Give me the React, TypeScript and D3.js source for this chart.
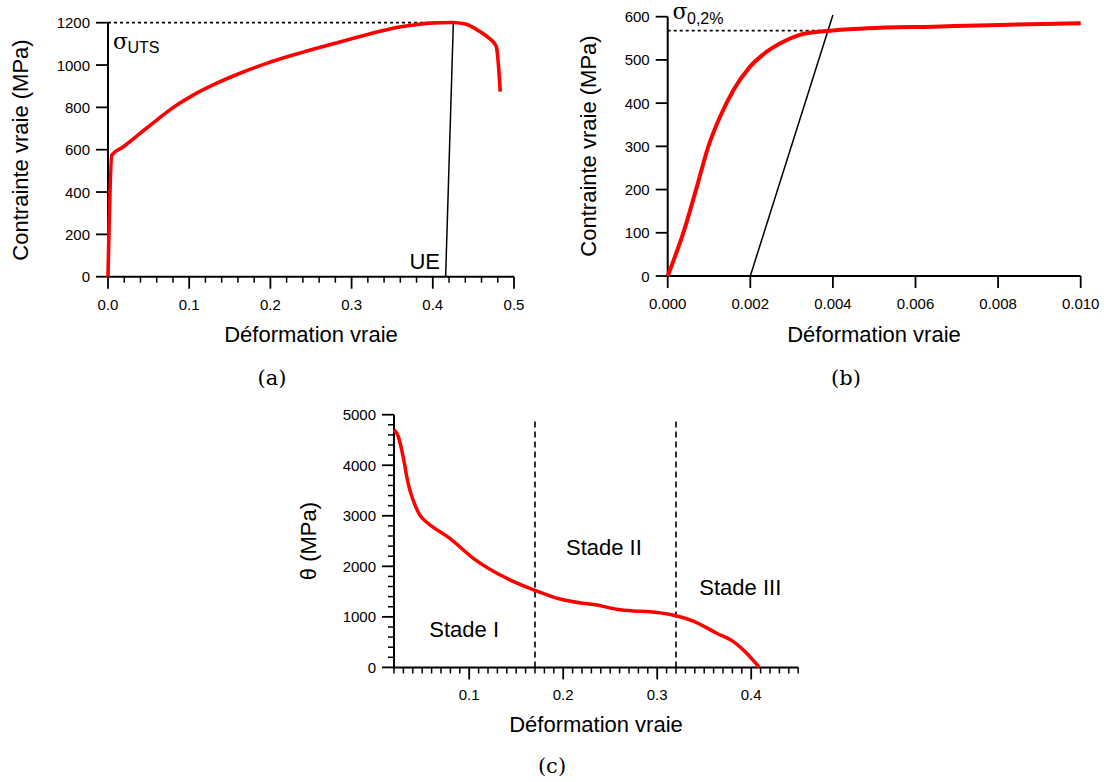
import React from 'react';
import * as d3 from 'd3';

// ---------- Panel (a) data ----------
const aStrain = [0, 0.0047, 0.0189, 0.0394, 0.06, 0.0805, 0.105, 0.134, 0.1626, 0.1954, 0.228, 0.257, 0.298, 0.339, 0.351, 0.376, 0.397, 0.423, 0.44, 0.458, 0.468, 0.478, 0.481, 0.483];
const aStress = [0, 575, 614, 677, 740, 800, 858, 914, 961, 1008, 1047, 1079, 1122, 1163, 1174, 1189, 1198, 1201, 1194, 1158, 1131, 1090, 992, 874];
const aYTicks = [0, 200, 400, 600, 800, 1000, 1200];
const aXTicks = [0, 0.1, 0.2, 0.3, 0.4, 0.5];
const aUTS = 1200;
const aUELine = [[0.4158, 0], [0.4253, 1200]];

// ---------- Panel (b) data ----------
const bStrain = [0, 0.000395, 0.000702, 0.000985, 0.00127, 0.00159, 0.00199, 0.0024, 0.0028, 0.0032, 0.00385, 0.00482, 0.00643, 0.00805, 0.01];
const bStress = [0, 105, 205, 300, 369, 430, 484, 519, 542, 558, 567, 573, 577, 581, 585];
const bYTicks = [0, 100, 200, 300, 400, 500, 600];
const bXTicks = [0, 0.002, 0.004, 0.006, 0.008, 0.01];
const bYield = 568;
const bOffsetLine = [[0.002, 0], [0.004, 604]];

// ---------- Panel (c) data ----------
const cStrain = [0.02, 0.0246, 0.0297, 0.035, 0.0403, 0.0474, 0.0563, 0.0794, 0.1044, 0.1399, 0.1693, 0.1966, 0.2214, 0.2356, 0.2569, 0.2746, 0.2923, 0.32, 0.3384, 0.3633, 0.381, 0.3952, 0.4086];
const cTheta = [4700, 4565, 4169, 3643, 3312, 3016, 2851, 2554, 2159, 1763, 1531, 1353, 1268, 1235, 1150, 1116, 1102, 1023, 918, 675, 509, 279, 0];
const cYTicks = [0, 1000, 2000, 3000, 4000, 5000];
const cXTicks = [0.1, 0.2, 0.3, 0.4];
const cStages = [0.17, 0.32];

const SANS = "'Liberation Sans', Arial, sans-serif";
const SERIF = "'DejaVu Serif', serif";
const RED = '#ff0000';

function range(a: number, b: number, step: number) {
  const out: number[] = [];
  const n = Math.round((b - a) / step);
  for (let i = 0; i <= n; i++) out.push(+(a + i * step).toFixed(6));
  return out;
}

function Axes({ x, y, xTicks, yTicks, xMinor, yMinor, xFmt, yFmt }: any) {
  const [x0, x1] = x.range();
  const [y0, y1] = y.range();
  return (
    <g>
      <line x1={x0} x2={x0} y1={y0 + 1} y2={y1} stroke="#000" strokeWidth={2} />
      <line x1={x0 - 1} x2={x1} y1={y0} y2={y0} stroke="#000" strokeWidth={2} />
      {yMinor.map((v: number, i: number) => (
        <line key={'ym' + i} x1={x0 - 6} x2={x0} y1={y(v)} y2={y(v)} stroke="#000" strokeWidth={1.5} />
      ))}
      {yTicks.map((v: number, i: number) => (
        <g key={'y' + i}>
          <line x1={x0 - 12} x2={x0} y1={y(v)} y2={y(v)} stroke="#000" strokeWidth={1.8} />
          <text x={x0 - 18} y={y(v) + 5.5} textAnchor="end" fontFamily={SANS} fontSize={15}>{yFmt(v)}</text>
        </g>
      ))}
      {xMinor.map((v: number, i: number) => (
        <line key={'xm' + i} x1={x(v)} x2={x(v)} y1={y0} y2={y0 + 6} stroke="#000" strokeWidth={1.5} />
      ))}
      {xTicks.map((v: number, i: number) => (
        <g key={'x' + i}>
          <line x1={x(v)} x2={x(v)} y1={y0} y2={y0 + 12} stroke="#000" strokeWidth={1.8} />
          <text x={x(v)} y={y0 + 33} textAnchor="middle" fontFamily={SANS} fontSize={15}>{xFmt(v)}</text>
        </g>
      ))}
    </g>
  );
}

export default function App() {
  // Panel (a)
  const ax = d3.scaleLinear().domain([0, 0.5]).range([108, 514]);
  const ay = d3.scaleLinear().domain([0, 1200]).range([276.7, 22.7]);
  const aLine = d3.line<number>().x((_, i) => ax(aStrain[i])).y((d) => ay(d)).curve(d3.curveMonotoneX);

  // Panel (b)
  const bx = d3.scaleLinear().domain([0, 0.01]).range([667.7, 1080.7]);
  const by = d3.scaleLinear().domain([0, 600]).range([276, 16.7]);
  const bLine = d3.line<number>().x((_, i) => bx(bStrain[i])).y((d) => by(d)).curve(d3.curveMonotoneX);

  // Panel (c)
  const cx = d3.scaleLinear().domain([0.02, 0.45]).range([394, 798.2]);
  const cy = d3.scaleLinear().domain([0, 5000]).range([667.4, 414.7]);
  const cLine = d3.line<number>().x((_, i) => cx(cStrain[i])).y((d) => cy(d)).curve(d3.curveMonotoneX);

  const yieldX = bx(0.00389);

  return (
    <svg width={1104} height={782} style={{ position: 'absolute', left: 0, top: 0, background: '#fff' }}>
      <rect width={1104} height={782} fill="#fff" />

      {/* ===== Panel (a) ===== */}
      <line x1={ax(0)} x2={ax(aUELine[1][0])} y1={ay(aUTS)} y2={ay(aUTS)} stroke="#000" strokeWidth={1.8} strokeDasharray="3,3" />
      <line x1={ax(aUELine[0][0])} y1={ay(aUELine[0][1])} x2={ax(aUELine[1][0])} y2={ay(aUELine[1][1])} stroke="#000" strokeWidth={1.5} />
      <Axes x={ax} y={ay} xTicks={aXTicks} yTicks={aYTicks}
        xMinor={range(0, 0.5, 0.02).filter((v) => Math.abs(v * 10 - Math.round(v * 10)) > 1e-6)}
        yMinor={[]} xFmt={d3.format('.1f')} yFmt={d3.format('d')} />
      <path d={aLine(aStress) || ''} fill="none" stroke={RED} strokeWidth={3.6} strokeLinejoin="round" />
      <text x={113} y={48.5} fontFamily={SERIF} fontSize={22}>σ</text>
      <text x={127.5} y={53.3} fontFamily={SANS} fontSize={16}>UTS</text>
      <text x={440} y={269.3} textAnchor="end" fontFamily={SANS} fontSize={22}>UE</text>
      <text x={311} y={342} textAnchor="middle" fontFamily={SANS} fontSize={22}>Déformation vraie</text>
      <text transform={`translate(28,150) rotate(-90)`} textAnchor="middle" fontFamily={SANS} fontSize={22}>Contrainte vraie (MPa)</text>
      <text x={272} y={385} textAnchor="middle" fontFamily={SERIF} fontSize={21}>(a)</text>

      {/* ===== Panel (b) ===== */}
      <line x1={bx(0)} x2={yieldX} y1={by(bYield)} y2={by(bYield)} stroke="#000" strokeWidth={1.8} strokeDasharray="3,3" />
      <line x1={bx(bOffsetLine[0][0])} y1={by(bOffsetLine[0][1])} x2={bx(bOffsetLine[1][0])} y2={by(bOffsetLine[1][1])} stroke="#000" strokeWidth={1.5} />
      <Axes x={bx} y={by} xTicks={bXTicks} yTicks={bYTicks} xMinor={[]} yMinor={[]}
        xFmt={d3.format('.3f')} yFmt={d3.format('d')} />
      <path d={bLine(bStress) || ''} fill="none" stroke={RED} strokeWidth={4} strokeLinejoin="round" />
      <text x={672.5} y={18.5} fontFamily={SERIF} fontSize={22}>σ</text>
      <text x={687} y={23.5} fontFamily={SANS} fontSize={16}>0,2%</text>
      <text x={874} y={342} textAnchor="middle" fontFamily={SANS} fontSize={22}>Déformation vraie</text>
      <text transform={`translate(596,146) rotate(-90)`} textAnchor="middle" fontFamily={SANS} fontSize={22}>Contrainte vraie (MPa)</text>
      <text x={846} y={385} textAnchor="middle" fontFamily={SERIF} fontSize={21}>(b)</text>

      {/* ===== Panel (c) ===== */}
      {cStages.map((s, i) => (
        <line key={i} x1={cx(s)} x2={cx(s)} y1={cy(0)} y2={cy(4900)} stroke="#000" strokeWidth={1.6} strokeDasharray="6,4" />
      ))}
      <Axes x={cx} y={cy} xTicks={cXTicks} yTicks={cYTicks}
        xMinor={range(0.02, 0.45, 0.01).filter((v) => Math.abs(v * 10 - Math.round(v * 10)) > 1e-6)}
        yMinor={range(0, 5000, 200).filter((v) => v % 1000 !== 0)}
        xFmt={d3.format('.1f')} yFmt={d3.format('d')} />
      <path d={cLine(cTheta) || ''} fill="none" stroke={RED} strokeWidth={3.5} strokeLinejoin="round" />
      <text x={429.3} y={636.5} fontFamily={SANS} fontSize={22}>Stade I</text>
      <text x={566} y={554.5} fontFamily={SANS} fontSize={22}>Stade II</text>
      <text x={699.3} y={595} fontFamily={SANS} fontSize={22}>Stade III</text>
      <text x={596} y={732} textAnchor="middle" fontFamily={SANS} fontSize={22}>Déformation vraie</text>
      <text transform={`translate(316,541) rotate(-90)`} textAnchor="middle" fontFamily={SANS} fontSize={22}>θ (MPa)</text>
      <text x={552} y={773} textAnchor="middle" fontFamily={SERIF} fontSize={21}>(c)</text>
    </svg>
  );
}
